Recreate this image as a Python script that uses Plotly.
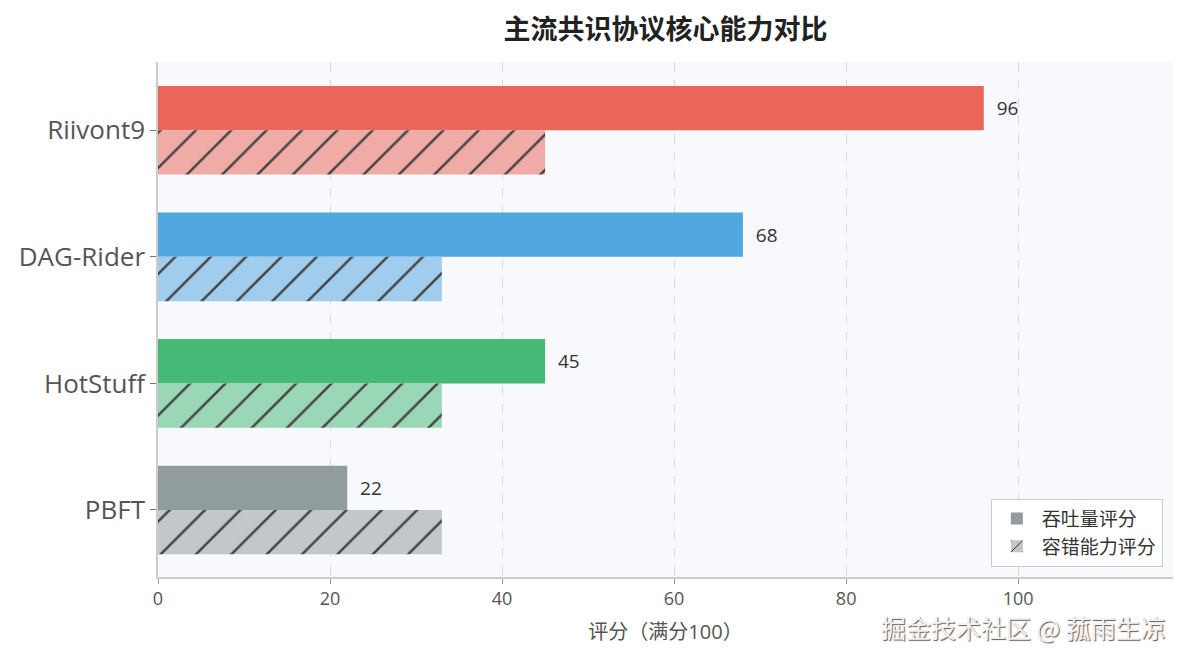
import plotly.graph_objects as go

protocols = ["PBFT", "HotStuff", "DAG-Rider", "Riivont9"]
throughput = [22, 45, 68, 96]
fault_tolerance = [33, 33, 33, 45]
base_colors = [(127, 140, 141), (39, 174, 96), (52, 152, 219), (231, 76, 60)]
x_ticks = [0, 20, 40, 60, 80, 100]

FONT = "Open Sans, Noto Sans CJK SC, sans-serif"
CJK = "Noto Sans CJK SC, sans-serif"
BG = (248, 249, 252)


def blend(c, a):
    return "rgb({},{},{})".format(*[round(bg + (v - bg) * a) for v, bg in zip(c, BG)])


solid = [blend(c, 0.85) for c in base_colors]
light = [blend(c, 0.45) for c in base_colors]

fig = go.Figure()
fig.add_trace(go.Bar(
    y=protocols, x=throughput, orientation="h", name="吞吐量评分",
    offset=0, width=0.35,
    marker=dict(color=solid, line=dict(width=0)),
    texttemplate="\u00a0\u00a0%{x}", textposition="outside",
    outsidetextfont=dict(size=19, color="#333333", family=FONT),
    cliponaxis=False,
))
fig.add_trace(go.Bar(
    y=protocols, x=fault_tolerance, orientation="h", name="容错能力评分",
    offset=-0.35, width=0.35,
    marker=dict(color=light, line=dict(width=0),
                pattern=dict(shape="/", fgcolor="#000000", fgopacity=1,
                             fillmode="overlay", size=25, solidity=0.1)),
))

# page body has an 8px margin, so the figure is 8px smaller than the window
fig.update_layout(
    width=1180, height=652,
    barmode="overlay",
    paper_bgcolor="white", plot_bgcolor="#f8f9fc",
    margin=dict(l=150, r=15, t=54, b=83),
    font=dict(family=FONT, color="#555555"),
    title=dict(text="主流共识协议核心能力对比", xref="paper", x=0.5, xanchor="center",
               yref="container", y=1 - 22 / 652, yanchor="middle",
               font=dict(size=27, color="#222222", weight="bold", family=CJK)),
    showlegend=True,
    legend=dict(x=0.99, xanchor="right", y=0.02, yanchor="bottom",
                bgcolor="rgba(255,255,255,0.9)", bordercolor="#cccccc", borderwidth=1,
                font=dict(size=19, color="#333333", family=CJK), traceorder="normal",
                itemwidth=40),
    xaxis=dict(range=[0, 118], tickvals=x_ticks, showgrid=True,
               gridcolor="#d9d9d9", griddash="dash", gridwidth=1,
               zeroline=False, showline=True, linecolor="#cccccc", linewidth=1.5,
               ticks="outside", ticklen=5, tickcolor="#999999",
               tickfont=dict(size=18, color="#555555"),
               title=dict(text="评分（满分100）", standoff=16,
                          font=dict(size=20, color="#555555"))),
    yaxis=dict(categoryorder="array", categoryarray=protocols,
               range=[-0.53, 3.54], showgrid=False, zeroline=False,
               showline=True, linecolor="#cccccc", linewidth=1.5,
               ticks="outside", ticklen=6, tickcolor="#777777",
               tickfont=dict(size=26, color="#555555")),
)

fig.add_annotation(
    text="掘金技术社区 @ 菰雨生凉", xref="paper", yref="paper",
    x=0.995, xanchor="right", y=-0.097, yanchor="middle", showarrow=False,
    font=dict(size=25, color="#f2f2f2", family=CJK,
              shadow="1px 1px 1px rgba(0,0,0,0.65)"),
)

fig.write_html("out.html")
